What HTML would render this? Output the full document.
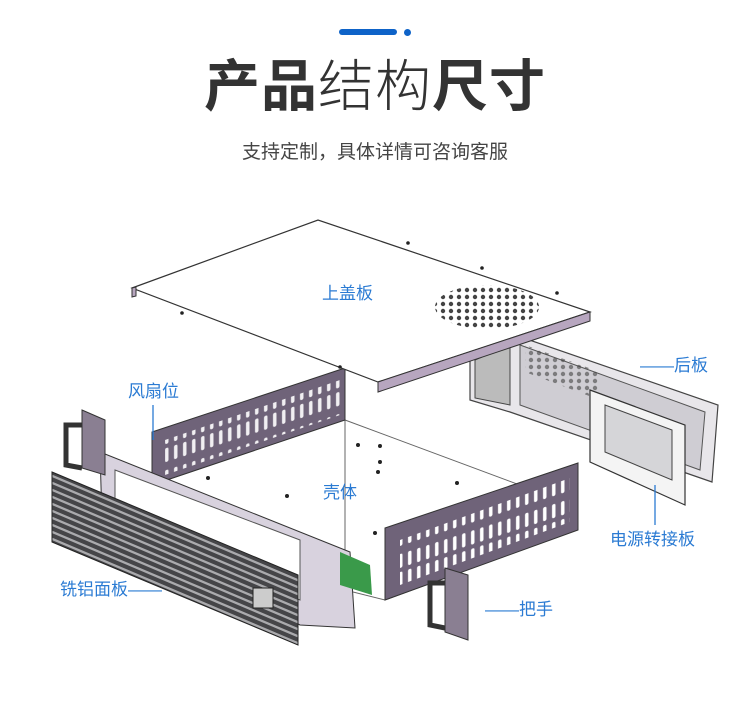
<!DOCTYPE html>
<html><head><meta charset="utf-8"><style>
body{margin:0;background:#fff;}
.w{position:relative;width:750px;height:716px;overflow:hidden;font-family:"Liberation Sans","Noto Sans CJK SC",sans-serif;}
.t{position:absolute;left:0;width:750px;text-align:center;color:#333;}
.l{position:absolute;color:#2b7bd3;font-size:17px;white-space:nowrap;line-height:20px;}
</style></head><body><div class="w">
<div style="position:absolute;left:339px;top:29px;width:58px;height:6px;border-radius:3px;background:#0e63c8"></div>
<div style="position:absolute;left:404px;top:29px;width:7px;height:7px;border-radius:50%;background:#0e63c8"></div>
<div class="t" style="top:52px;font-size:56px;line-height:70px;letter-spacing:1px"><b>产品</b><span style="font-weight:300">结构</span><b>尺寸</b></div>
<div class="t" style="top:140px;font-size:19px;line-height:26px;color:#444">支持定制，具体详情可咨询客服</div>
<svg width="750" height="716" style="position:absolute;left:0;top:0">
<defs>
<pattern id="sl" width="9" height="40" patternUnits="userSpaceOnUse" patternTransform="skewY(-18)"><rect x="3" y="4" width="3.5" height="14" rx="1.7" fill="#fff"/><rect x="3" y="22" width="3.5" height="14" rx="1.7" fill="#fff"/></pattern>
<pattern id="hx" width="8" height="7" patternUnits="userSpaceOnUse"><circle cx="3" cy="3" r="2.2" fill="#444"/></pattern>
<pattern id="rb" width="10" height="7" patternUnits="userSpaceOnUse" patternTransform="skewY(23)"><rect width="10" height="4.5" fill="#4a4a4e"/><rect y="4.5" width="10" height="2.5" fill="#c8c8cc"/></pattern>
</defs>
<!-- rear panel -->
<polygon points="470,355 515,335 718,405 712,482 510,412 470,400" fill="#e8e6ea" stroke="#444" stroke-width="1.2"/>
<polygon points="520,345 705,412 700,470 520,405" fill="#cfcdd3" stroke="#555"/>
<polygon points="525,345 600,372 600,400 525,372" fill="url(#hx)" opacity=".6"/>
<polygon points="475,360 510,345 510,405 475,398" fill="#bbb" stroke="#444"/>
<!-- power adapter plate -->
<polygon points="590,390 685,425 685,505 590,462" fill="#f4f4f4" stroke="#333" stroke-width="1.2"/>
<polygon points="605,405 672,430 672,480 605,452" fill="#d5d5d8" stroke="#444"/>
<!-- base floor -->
<polygon points="345,420 560,500 575,530 385,600 345,590" fill="#fff" stroke="#666"/>
<g fill="#222"><circle cx="358" cy="445" r="2"/><circle cx="380" cy="446" r="2"/><circle cx="380" cy="462" r="2"/><circle cx="378" cy="472" r="2"/><circle cx="287" cy="496" r="2"/><circle cx="375" cy="533" r="2"/><circle cx="457" cy="483" r="2"/><circle cx="465" cy="505" r="2"/><circle cx="208" cy="478" r="2"/></g>
<!-- left back side panel -->
<polygon points="152,432 345,368 345,420 152,485" fill="#6f6379" stroke="#333"/>
<polygon points="165,440 340,380 340,415 165,475" fill="url(#sl)" opacity=".9"/>
<!-- top cover -->
<polygon points="132,288 318,220 590,312 378,382" fill="#fff" stroke="#333" stroke-width="1.2"/>
<polygon points="378,382 590,312 590,321 378,392" fill="#b7a6bf" stroke="#333"/>
<polygon points="132,288 136,287 136,296 132,297" fill="#b7a6bf" stroke="#333"/>
<ellipse cx="487" cy="307" rx="52" ry="22" fill="url(#hx)"/>
<g fill="#222"><circle cx="408" cy="243" r="1.8"/><circle cx="482" cy="268" r="1.8"/><circle cx="557" cy="293" r="1.8"/><circle cx="182" cy="313" r="1.8"/><circle cx="340" cy="367" r="1.8"/></g>
<!-- front inner frame -->
<polygon points="100,452 350,552 355,628 300,625 102,520" fill="#d8d2de" stroke="#333"/>
<polygon points="115,470 300,540 300,600 115,520" fill="#fff" stroke="#555"/>
<polygon points="340,552 370,565 372,595 340,585" fill="#3a9a4a"/>
<!-- front aluminum panel -->
<polygon points="52,472 298,575 298,645 52,542" fill="url(#rb)" stroke="#222"/>
<polygon points="52,472 298,575 298,645 52,542" fill="#333" opacity=".2"/>
<rect x="253" y="588" width="20" height="20" fill="#ccc" stroke="#222"/>
<!-- left handle bracket -->
<polygon points="82,410 105,420 105,475 82,468" fill="#8a7f92" stroke="#333"/>
<path d="M82,425 L66,425 L66,465 L82,468" fill="none" stroke="#333" stroke-width="5"/>
<!-- front right side panel -->
<polygon points="385,528 578,463 578,530 385,600" fill="#6f6379" stroke="#333"/>
<polygon points="400,540 570,478 570,522 400,585" fill="url(#sl)"/>
<!-- right handle -->
<polygon points="445,568 468,575 468,640 445,632" fill="#8a7f92" stroke="#333"/>
<path d="M445,583 L430,583 L430,625 L445,628" fill="none" stroke="#333" stroke-width="5"/>
<!-- leader lines -->
<g stroke="#2b7bd3" stroke-width="1.3"><line x1="153" y1="405" x2="153" y2="440"/><line x1="655" y1="485" x2="655" y2="525"/></g>
</svg>
<div class="l" style="left:322px;top:284px">上盖板</div>
<div class="l" style="left:640px;top:356px">——后板</div>
<div class="l" style="left:128px;top:382px">风扇位</div>
<div class="l" style="left:323px;top:483px">壳体</div>
<div class="l" style="left:610px;top:530px">电源转接板</div>
<div class="l" style="left:60px;top:580px">铣铝面板——</div>
<div class="l" style="left:485px;top:600px">——把手</div>
</div></body></html>
